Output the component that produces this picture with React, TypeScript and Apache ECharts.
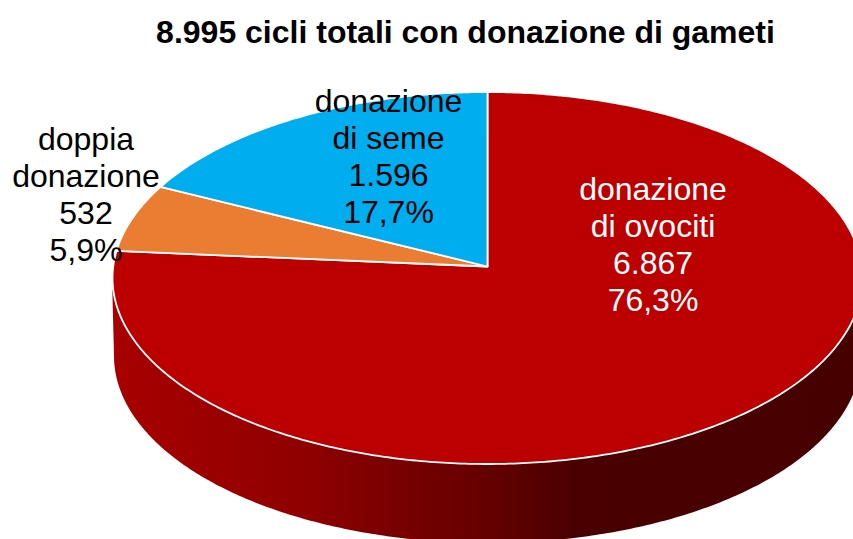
import React, { useEffect, useRef } from "react";
import * as echarts from "echarts";

const titleText = "8.995 cicli totali con donazione di gameti";
const categories = ["donazione\ndi ovociti", "doppia\ndonazione", "donazione\ndi seme"];
const values = [6867, 532, 1596];
const valueLabels = ["6.867", "532", "1.596"];
const percentLabels = ["76,3%", "5,9%", "17,7%"];
const sliceColors = ["#BC0000", "#EB7D33", "#00AEEF"];
const labelColors = ["#FFFFFF", "#000000", "#000000"];

const W = 853;
const H = 539;
const apex = { x: 487.5, y: 266.5 };
const top = { cx: 487, cy: 278, rx: 375, ry: 186 };
const bottom = { cx: 487.5, cy: 356, rx: 373.5, ry: 187 };
const labelAnchors = [
  { x: 653, y: 244.5 },
  { x: 86, y: 194.5 },
  { x: 388.5, y: 156.5 },
];

const total = values.reduce((a, b) => a + b, 0);

function rim(theta: number) {
  const dx = Math.sin(theta);
  const dy = -Math.cos(theta) * (top.ry / top.rx);
  const oy = apex.y - top.cy;
  const A = (dx * dx) / (top.rx * top.rx) + (dy * dy) / (top.ry * top.ry);
  const B = (2 * oy * dy) / (top.ry * top.ry);
  const C = (oy * oy) / (top.ry * top.ry) - 1;
  const s = (-B + Math.sqrt(B * B - 4 * A * C)) / (2 * A);
  return [apex.x + s * dx, apex.y + s * dy];
}

function sweep(a0: number, a1: number, f: (t: number) => number[]) {
  const n = Math.max(8, Math.ceil(Math.abs(a1 - a0) * 90));
  const pts: number[][] = [];
  for (let i = 0; i <= n; i++) pts.push(f(a0 + ((a1 - a0) * i) / n));
  return pts;
}

const onEllipse = (e: typeof top) => (t: number) => [e.cx + e.rx * Math.sin(t), e.cy - e.ry * Math.cos(t)];

const wallGradient = () =>
  new echarts.graphic.LinearGradient(0, 0, 1, 0, [
    { offset: 0, color: "#A80000" },
    { offset: 0.25, color: "#900000" },
    { offset: 0.5, color: "#640000" },
    { offset: 0.62, color: "#4A0000" },
    { offset: 1, color: "#470000" },
  ]);

const renderSlice = (params: any, api: any) => {
  const i = params.dataIndex;
  let before = 0;
  for (let k = 0; k < i; k++) before += values[k];
  const a0 = (before / total) * Math.PI * 2;
  const a1 = ((before + Number(api.value(0))) / total) * Math.PI * 2;
  const children: any[] = [];
  if (i === 0) {
    const upper = sweep(Math.PI / 2, (Math.PI * 3) / 2, onEllipse(top));
    const lower = sweep((Math.PI * 3) / 2, Math.PI / 2, onEllipse(bottom));
    children.push({
      type: "polygon",
      shape: { points: upper.concat(lower) },
      style: { fill: wallGradient() },
    });
  }
  children.push({
    type: "polygon",
    shape: { points: [[apex.x, apex.y], ...sweep(a0, a1, rim)] },
    style: { fill: sliceColors[i], stroke: "#FFFFFF", lineWidth: 1.8, lineJoin: "round" },
  });
  children.push({
    type: "text",
    z2: 100,
    style: {
      text: `${categories[i]}\n${valueLabels[i]}\n${percentLabels[i]}`,
      x: labelAnchors[i].x,
      y: labelAnchors[i].y,
      textAlign: "center",
      textVerticalAlign: "middle",
      fontFamily: "Liberation Sans",
      fontSize: 32,
      lineHeight: 37,
      fill: labelColors[i],
    },
  });
  return { type: "group", children };
};

export default function App() {
  const ref = useRef<HTMLDivElement>(null);
  useEffect(() => {
    document.body.style.margin = "0";
    const chart = echarts.init(ref.current!, undefined, { renderer: "svg" });
    chart.setOption({
      animation: false,
      backgroundColor: "#FFFFFF",
      title: {
        text: titleText,
        left: 460.5,
        top: 11,
        textAlign: "center",
        textStyle: { fontFamily: "Liberation Sans", fontSize: 32, fontWeight: "bold", color: "#000000" },
      },
      series: [
        {
          type: "custom",
          coordinateSystem: "none",
          silent: true,
          clip: false,
          renderItem: renderSlice,
          data: values.map((v) => [v]),
        },
      ],
    });
    return () => chart.dispose();
  }, []);
  return <div ref={ref} style={{ width: W, height: H }} />;
}
